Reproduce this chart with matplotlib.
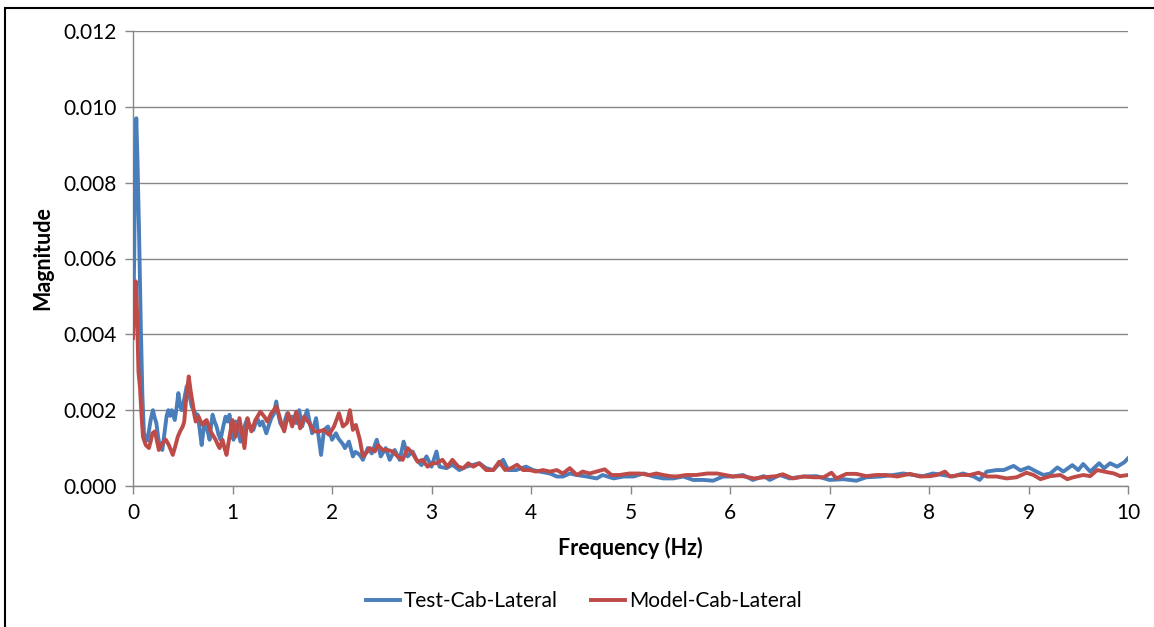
import numpy as np
import matplotlib
matplotlib.use("Agg")
import matplotlib.pyplot as plt
from matplotlib.patches import Rectangle

plt.rcParams['font.family'] = ['Lato', 'DejaVu Sans']

# Spectrum of measured cab lateral response (frequency in Hz, magnitude x 1e-3)
test_freq = [
    0.000, 0.012, 0.022, 0.033, 0.045, 0.060, 0.077, 0.094, 0.110, 0.130,
    0.144, 0.160, 0.178, 0.200, 0.218, 0.235, 0.252, 0.270, 0.295, 0.320,
    0.338, 0.355, 0.372, 0.390, 0.420, 0.440, 0.456, 0.475, 0.490, 0.510,
    0.540, 0.555, 0.570, 0.590, 0.610, 0.630, 0.650, 0.670, 0.690, 0.705,
    0.720, 0.745, 0.770, 0.785, 0.800, 0.820, 0.840, 0.860, 0.880, 0.905,
    0.930, 0.950, 0.970, 0.990, 1.010, 1.030, 1.055, 1.080, 1.100, 1.120,
    1.145, 1.170, 1.190, 1.210, 1.230, 1.250, 1.275, 1.300, 1.320, 1.340,
    1.365, 1.390, 1.415, 1.440, 1.460, 1.480, 1.510, 1.530, 1.550, 1.575,
    1.600, 1.620, 1.640, 1.670, 1.700, 1.725, 1.750, 1.775, 1.800, 1.820,
    1.840, 1.865, 1.890, 1.920, 1.960, 2.000, 2.040, 2.065, 2.090, 2.110,
    2.130, 2.170, 2.210, 2.235, 2.260, 2.285, 2.310, 2.360, 2.400, 2.450,
    2.490, 2.540, 2.580, 2.630, 2.680, 2.720, 2.760, 2.810, 2.850, 2.900,
    2.950, 3.000, 3.050, 3.080, 3.150, 3.210, 3.280, 3.350, 3.420, 3.480,
    3.550, 3.620, 3.720, 3.770, 3.850, 3.950, 4.020, 4.090, 4.190, 4.260,
    4.320, 4.390, 4.460, 4.560, 4.660, 4.720, 4.830, 4.930, 5.030, 5.130,
    5.230, 5.330, 5.430, 5.530, 5.630, 5.730, 5.830, 5.930, 6.030, 6.130,
    6.230, 6.340, 6.400, 6.500, 6.600, 6.740, 6.870, 7.000, 7.140, 7.270,
    7.370, 7.510, 7.640, 7.740, 7.840, 7.940, 8.040, 8.140, 8.240, 8.340,
    8.450, 8.510, 8.580, 8.680, 8.750, 8.850, 8.920, 9.000, 9.080, 9.150,
    9.220, 9.290, 9.350, 9.440, 9.500, 9.550, 9.620, 9.710, 9.760, 9.820,
    9.890, 9.960, 10.000,
]
test_mag = [
    4.00, 6.00, 8.60, 9.70, 8.60, 6.80, 4.40, 2.40, 1.40, 1.20,
    1.20, 1.45, 1.75, 2.00, 1.80, 1.66, 1.30, 1.04, 0.95, 1.48,
    1.85, 2.00, 1.85, 2.00, 1.74, 2.10, 2.45, 2.10, 2.00, 2.23,
    2.63, 2.40, 2.36, 2.10, 2.00, 1.90, 1.88, 1.50, 1.08, 1.40,
    1.66, 1.50, 1.22, 1.60, 1.88, 1.70, 1.57, 1.35, 1.22, 1.55,
    1.83, 1.70, 1.88, 1.50, 1.22, 1.70, 1.45, 1.17, 1.40, 1.57,
    1.75, 1.61, 1.50, 1.48, 1.65, 1.79, 1.60, 1.70, 1.55, 1.39,
    1.60, 1.79, 1.90, 2.23, 1.90, 1.66, 1.52, 1.75, 1.92, 1.75,
    1.83, 1.75, 1.66, 2.00, 1.57, 1.80, 2.00, 1.70, 1.39, 1.60,
    1.79, 1.30, 0.82, 1.48, 1.57, 1.22, 1.39, 1.25, 1.17, 1.10,
    1.00, 1.17, 0.78, 0.90, 0.86, 0.80, 0.69, 1.00, 0.86, 1.22,
    0.78, 1.00, 0.69, 0.95, 0.69, 1.17, 0.78, 0.91, 0.69, 0.55,
    0.78, 0.51, 0.91, 0.51, 0.47, 0.56, 0.42, 0.51, 0.56, 0.60,
    0.47, 0.42, 0.69, 0.42, 0.42, 0.51, 0.42, 0.38, 0.33, 0.25,
    0.25, 0.33, 0.29, 0.25, 0.20, 0.29, 0.20, 0.25, 0.25, 0.33,
    0.25, 0.20, 0.20, 0.25, 0.16, 0.16, 0.14, 0.25, 0.25, 0.29,
    0.16, 0.26, 0.16, 0.29, 0.20, 0.25, 0.26, 0.16, 0.18, 0.14,
    0.23, 0.25, 0.29, 0.33, 0.29, 0.26, 0.33, 0.29, 0.25, 0.33,
    0.25, 0.16, 0.38, 0.42, 0.42, 0.53, 0.41, 0.49, 0.38, 0.29,
    0.33, 0.49, 0.38, 0.55, 0.42, 0.58, 0.38, 0.60, 0.47, 0.60,
    0.51, 0.62, 0.73,
]

# Spectrum of simulated cab lateral response (frequency in Hz, magnitude x 1e-3)
model_freq = [
    0.000, 0.012, 0.027, 0.040, 0.055, 0.070, 0.085, 0.100, 0.128, 0.160,
    0.180, 0.195, 0.220, 0.240, 0.260, 0.280, 0.295, 0.330, 0.345, 0.360,
    0.380, 0.400, 0.425, 0.450, 0.475, 0.500, 0.515, 0.530, 0.560, 0.580,
    0.600, 0.615, 0.630, 0.660, 0.680, 0.700, 0.720, 0.740, 0.760, 0.780,
    0.800, 0.830, 0.850, 0.870, 0.900, 0.920, 0.940, 0.970, 1.000, 1.030,
    1.050, 1.070, 1.095, 1.120, 1.150, 1.170, 1.190, 1.230, 1.255, 1.280,
    1.320, 1.350, 1.390, 1.415, 1.440, 1.465, 1.490, 1.520, 1.560, 1.600,
    1.640, 1.680, 1.720, 1.770, 1.820, 1.870, 1.920, 1.970, 2.020, 2.070,
    2.110, 2.150, 2.180, 2.210, 2.240, 2.280, 2.310, 2.340, 2.380, 2.430,
    2.460, 2.510, 2.560, 2.610, 2.660, 2.710, 2.760, 2.810, 2.860, 2.910,
    2.960, 3.010, 3.050, 3.110, 3.160, 3.210, 3.270, 3.320, 3.370, 3.420,
    3.480, 3.550, 3.620, 3.680, 3.740, 3.800, 3.860, 3.920, 3.990, 4.050,
    4.120, 4.190, 4.260, 4.320, 4.390, 4.460, 4.520, 4.590, 4.660, 4.740,
    4.810, 4.890, 4.990, 5.090, 5.190, 5.260, 5.330, 5.400, 5.460, 5.560,
    5.660, 5.770, 5.870, 5.950, 6.030, 6.130, 6.240, 6.340, 6.470, 6.530,
    6.630, 6.740, 6.840, 6.940, 7.020, 7.070, 7.170, 7.270, 7.370, 7.470,
    7.570, 7.680, 7.810, 7.910, 8.010, 8.080, 8.160, 8.210, 8.310, 8.410,
    8.500, 8.580, 8.680, 8.780, 8.880, 8.980, 9.050, 9.120, 9.220, 9.320,
    9.390, 9.450, 9.550, 9.620, 9.690, 9.760, 9.860, 9.920, 10.000,
]
model_mag = [
    3.90, 4.80, 5.40, 4.60, 3.00, 2.60, 1.90, 1.30, 1.08, 1.00,
    1.20, 1.39, 1.44, 1.20, 0.95, 1.05, 1.13, 1.22, 1.15, 1.08,
    0.95, 0.82, 1.05, 1.30, 1.45, 1.57, 1.70, 2.18, 2.89, 2.50,
    2.18, 1.90, 1.70, 1.83, 1.70, 1.61, 1.70, 1.74, 1.60, 1.44,
    1.35, 1.22, 1.10, 1.00, 1.22, 1.00, 0.82, 1.30, 1.74, 1.30,
    1.55, 1.79, 1.40, 1.00, 1.79, 1.60, 1.44, 1.74, 1.85, 1.96,
    1.83, 1.70, 1.92, 2.00, 2.10, 1.90, 1.66, 1.44, 1.92, 1.57,
    1.96, 1.52, 1.83, 1.66, 1.44, 1.44, 1.48, 1.35, 1.57, 1.92,
    1.57, 1.66, 2.00, 1.48, 1.61, 1.22, 0.78, 0.86, 1.00, 0.91,
    1.08, 0.95, 0.95, 0.91, 0.78, 0.69, 1.00, 0.86, 0.64, 0.69,
    0.51, 0.60, 0.60, 0.69, 0.51, 0.69, 0.51, 0.47, 0.60, 0.51,
    0.60, 0.42, 0.42, 0.64, 0.42, 0.47, 0.56, 0.42, 0.42, 0.38,
    0.42, 0.38, 0.42, 0.33, 0.47, 0.29, 0.38, 0.33, 0.38, 0.44,
    0.29, 0.29, 0.33, 0.33, 0.29, 0.33, 0.29, 0.26, 0.25, 0.29,
    0.29, 0.33, 0.33, 0.29, 0.25, 0.26, 0.20, 0.23, 0.26, 0.31,
    0.20, 0.25, 0.23, 0.23, 0.35, 0.20, 0.32, 0.32, 0.26, 0.29,
    0.29, 0.25, 0.32, 0.25, 0.26, 0.29, 0.38, 0.25, 0.29, 0.29,
    0.35, 0.25, 0.25, 0.20, 0.23, 0.35, 0.29, 0.18, 0.26, 0.29,
    0.18, 0.23, 0.29, 0.26, 0.42, 0.38, 0.33, 0.26, 0.29,
]

series_labels = ["Test-Cab-Lateral", "Model-Cab-Lateral"]
y_ticks = [0.000, 0.002, 0.004, 0.006, 0.008, 0.010, 0.012]
x_ticks = [0, 1, 2, 3, 4, 5, 6, 7, 8, 9, 10]

BLUE = "#4A7EBB"
RED = "#BE4B48"
GRID = "#868686"

W, H = 1154, 627
fig = plt.figure(figsize=(W / 100, H / 100), dpi=100)
ax = fig.add_axes([133 / W, 1 - 486 / H, (1128 - 133) / W, (486 - 31) / H])

scale = 1e-3
ax.plot(test_freq, np.array(test_mag) * scale, color=BLUE, lw=2.8,
        solid_joinstyle="round", label=series_labels[0], zorder=3)
ax.plot(model_freq, np.array(model_mag) * scale, color=RED, lw=2.8,
        solid_joinstyle="round", label=series_labels[1], zorder=4)

ax.set_xlim(0, 10)
ax.set_ylim(0, 0.012)
ax.set_xticks(x_ticks)
ax.set_yticks(y_ticks)
ax.set_xticklabels([str(v) for v in x_ticks])
ax.set_yticklabels([f"{v:.3f}" for v in y_ticks])

ax.grid(axis="y", color=GRID, lw=1.0)
ax.set_axisbelow(True)
for side in ("top", "right"):
    ax.spines[side].set_visible(False)
for side in ("left", "bottom"):
    ax.spines[side].set_color(GRID)
    ax.spines[side].set_linewidth(1.0)
ax.tick_params(axis="both", direction="out", length=6, width=1.0,
               color=GRID, labelsize=15, labelcolor="black")
ax.tick_params(axis="y", pad=6)
ax.tick_params(axis="x", pad=6)

ax.set_xlabel("Frequency (Hz)", fontsize=15.5, fontweight="bold", labelpad=10)
ax.set_ylabel("Magnitude", fontsize=15.5, fontweight="bold", labelpad=7)

fig.legend(loc="center", bbox_to_anchor=(584 / W, 1 - 601 / H), ncol=2,
           frameon=False, fontsize=15, handlelength=1.6, handletextpad=0.2,
           columnspacing=1.6)

# chart outline
fig.patches.append(Rectangle((5 / W, -0.05), 1.2, 1 - 8 / H + 0.05,
                             transform=fig.transFigure, fill=False,
                             edgecolor="black", lw=1.5))

fig.savefig("out.png", dpi=100)
